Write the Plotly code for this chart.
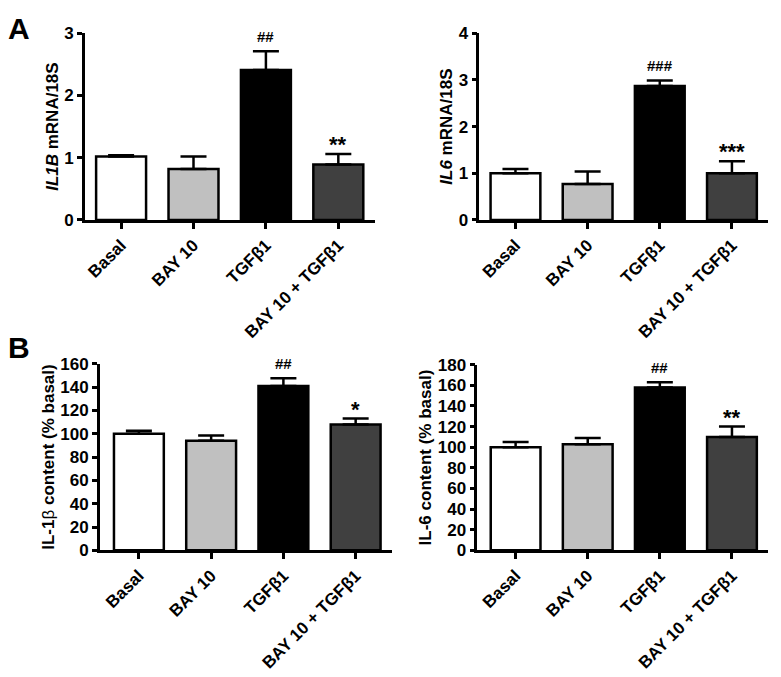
import plotly.graph_objects as go

# categories shared by all four panels
groups = ["Basal", "BAY 10", "TGFβ1", "BAY 10 + TGFβ1"]
bar_colors = ["#ffffff", "#c0c0c0", "#000000", "#404040"]

# A - mRNA
il1b_mrna = [1.02, 0.82, 2.41, 0.89]
il1b_mrna_err = [0.02, 0.20, 0.30, 0.17]
il1b_mrna_sig = ["", "", "##", "**"]

il6_mrna = [1.00, 0.77, 2.87, 1.00]
il6_mrna_err = [0.09, 0.27, 0.12, 0.26]
il6_mrna_sig = ["", "", "###", "***"]

# B - protein content
il1b_prot = [100, 94, 141, 108]
il1b_prot_err = [2.5, 4.5, 6.5, 5]
il1b_prot_sig = ["", "", "##", "*"]

il6_prot = [100, 103, 158, 110]
il6_prot_err = [5, 6, 5, 10]
il6_prot_sig = ["", "", "##", "**"]

W, H = 781, 677
FONT = "Liberation Sans, Arial, sans-serif"

panels = [
	# values, errors, sig, axis suffix, x px span, y px span (bottom, top), y max, dtick, title, x range
	(il1b_mrna, il1b_mrna_err, il1b_mrna_sig, "", (84, 374), (217, 25), 3, 1,
	 "<b><i>IL1B</i> mRNA/18S</b>", [-0.5, 3.5]),
	(il6_mrna, il6_mrna_err, il6_mrna_sig, "2", (479, 768), (217, 25), 4, 1,
	 "<b><i>IL6</i> mRNA/18S</b>", [-0.5, 3.5]),
	(il1b_prot, il1b_prot_err, il1b_prot_sig, "3", (99, 392), (557, 365), 160, 20,
	 "<b>IL-1</b>β<b> content (% basal)</b>", [-0.54, 3.51]),
	(il6_prot, il6_prot_err, il6_prot_sig, "4", (477, 768), (557, 366), 180, 20,
	 "<b>IL-6 content (% basal)</b>", [-0.53, 3.5]),
]

fig = go.Figure()
annotations = []
layout = {}

for vals, errs, sig, s, xs, ys, ytop, dt, title, xr in panels:
	fig.add_trace(go.Bar(
		x=groups, y=vals,
		marker=dict(color=bar_colors, line=dict(color="black", width=2.5)),
		width=0.69,
		error_y=dict(type="data", symmetric=False, array=errs,
					 arrayminus=[0] * len(errs), color="black",
					 thickness=2.5, width=13),
		xaxis="x" + s, yaxis="y" + s, showlegend=False,
	))
	layout["xaxis" + s] = dict(
		domain=[xs[0] / W, xs[1] / W], anchor="y" + s,
		range=xr, tickangle=-45, showline=True, linecolor="black", linewidth=2.5,
		ticks="outside", ticklen=6, tickwidth=2.5, tickcolor="black",
		tickfont=dict(family=FONT, size=17, color="black", weight="bold"),
		showgrid=False, zeroline=False,
	)
	layout["yaxis" + s] = dict(
		domain=[1 - ys[0] / H, 1 - ys[1] / H], anchor="x" + s,
		range=[0, ytop], dtick=dt, showline=True, linecolor="black", linewidth=2.5,
		ticks="outside", ticklen=5, tickwidth=2.5, tickcolor="black",
		tickfont=dict(family=FONT, size=17, color="black", weight="bold"),
		title=dict(text=title, font=dict(family=FONT, size=17, color="black"), standoff=2),
		showgrid=False, zeroline=False,
	)
	for g, v, e, t in zip(groups, vals, errs, sig):
		if not t:
			continue
		star = t.startswith("*")
		annotations.append(dict(
			x=g, y=v + e, xref="x" + s, yref="y" + s, text=t, showarrow=False,
			yanchor="bottom", yshift=-5 if star else 4,
			font=dict(family=FONT, size=22 if star else 15, color="black",
					  weight="bold"),
		))

for letter, py in (("A", 20), ("B", 348)):
	annotations.append(dict(x=18 / W, y=1 - py / H, xref="paper", yref="paper",
							xanchor="center", yanchor="middle", text="<b>%s</b>" % letter,
							showarrow=False, font=dict(family=FONT, size=30, color="black")))

fig.update_layout(
	width=W, height=H, margin=dict(l=0, r=0, t=0, b=0),
	paper_bgcolor="white", plot_bgcolor="white",
	annotations=annotations,
	**layout
)

fig.write_html("out.html", config={"displayModeBar": False},
			   post_script="document.body.style.margin='0';")
